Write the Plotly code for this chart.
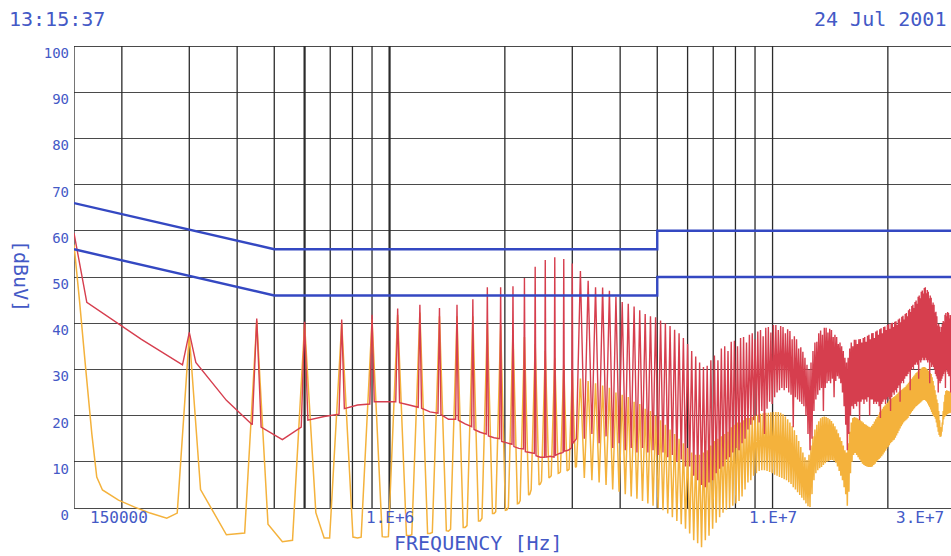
import math
import plotly.graph_objects as go

# ---------------- data ----------------
F0_HZ = 150e3  # switching fundamental; harmonic n sits at n*F0

Y_TICKS = [0, 10, 20, 30, 40, 50, 60, 70, 80, 90, 100]
Y_TICK_TEXT = ["0", "10", "20", "30", "40", "50", "60", "70", "80", "90", "100"]

GRID_FREQ_HZ = [150e3, 200e3, 300e3, 400e3, 500e3, 600e3, 700e3, 800e3, 900e3,
                1e6, 2e6, 3e6, 4e6, 5e6, 6e6, 7e6, 8e6, 9e6, 1e7, 2e7]
GRID_BOLD_HZ = [600e3, 1e6]

X_TICK_LABELS = ["150000", "1.E+6", "1.E+7", "3.E+7"]
X_TICK_FREQ_HZ = [150e3, 1e6, 1e7, 3e7]

# Limit lines
LIMIT_F_HZ = [150e3, 500e3, 5e6, 5e6, 30e6]
QP_LIMIT_DB = [66, 56, 56, 60, 60]
AV_LIMIT_DB = [56, 46, 46, 50, 50]

# Red (peak) trace, harmonics n = 1..20 : left shoulder, peak, right shoulder, floor midway to next
RED_LOW_LEFT = [None, 31.0, 18.0, 17.5, 20.3, 22.5, 23.0, 21.8, 20.5, 19.2,
                17.6, 16.0, 15.0, 13.8, 12.8, 11.8, 11.0, 11.0, 12.0, 13.0]
RED_LOW_PEAK = [59.5, 38.0, 41.0, 40.3, 40.8, 41.8, 43.2, 44.0, 43.3, 44.0,
                45.2, 47.8, 47.8, 48.0, 49.8, 52.2, 53.7, 54.3, 53.9, 52.9]
RED_LOW_RIGHT = [44.5, 31.5, 17.5, 19.0, 21.5, 23.0, 22.8, 21.6, 20.2, 19.0,
                 17.0, 15.6, 14.4, 13.3, 12.2, 11.3, 11.0, 11.4, 12.3, 14.0]
RED_LOW_MID = [36.5, 23.3, 14.8, 19.8, 22.3, 23.0, 22.3, 20.8, 19.2, 18.2,
               16.4, 15.2, 14.1, 12.9, 12.0, 11.0, 11.2, 11.8, 12.5, 15.0]

# Red, harmonics n = 21..197 : peak and valley after it
RED_HI_PEAK = [
    51.3, 49.2, 47.8, 47.7, 47.0, 45.7, 44.6, 44.2, 43.6, 42.8,
    42.0, 41.5, 41.3, 40.6, 40.0, 39.4, 38.6, 37.8, 36.8, 35.5,
    34.0, 32.8, 31.5, 30.5, 30.8, 32.0, 33.0, 32.0, 34.5, 35.0,
    34.0, 36.0, 36.2, 35.0, 36.8, 37.0, 35.8, 37.5, 37.8, 36.5,
    38.2, 38.5, 37.2, 39.0, 39.2, 38.0, 39.6, 39.6, 38.5, 39.4,
    39.2, 37.8, 38.7, 38.3, 36.5, 37.2, 36.5, 34.5, 34.8, 33.8,
    32.5, 31.0, 30.0, 31.5, 34.0, 35.8, 36.0, 37.8, 38.4, 37.5,
    39.0, 39.0, 38.0, 38.8, 38.5, 37.0, 37.5, 37.0, 35.5, 35.8,
    35.0, 34.0, 32.5, 31.5, 32.5, 34.5, 35.8, 35.0, 36.4, 36.4,
    35.5, 36.5, 36.6, 35.8, 36.8, 37.0, 36.0, 37.3, 37.5, 36.5,
    37.8, 37.9, 36.8, 38.2, 38.4, 37.5, 38.7, 38.9, 37.8, 39.2,
    39.3, 38.5, 39.6, 39.8, 38.8, 40.0, 40.1, 39.2, 40.3, 40.4,
    39.6, 40.8, 41.0, 40.2, 41.4, 41.6, 40.8, 42.0, 42.2, 41.5,
    42.8, 43.1, 42.4, 43.7, 44.0, 43.3, 44.6, 44.9, 44.2, 45.7,
    46.0, 45.4, 46.8, 47.1, 46.4, 47.6, 47.8, 46.5, 47.2, 46.8,
    45.4, 46.0, 45.5, 44.0, 44.5, 44.0, 42.3, 42.5, 41.5, 39.5,
    39.8, 39.3, 38.1, 39.2, 39.8, 40.5, 40.2, 41.8, 42.2, 41.5,
    42.4, 42.2, 41.0, 41.8, 41.5, 40.3, 41.0]
RED_HI_VALLEY = [
    15.0, 16.0, 14.0, 15.5, 13.0, 14.0, 12.5, 13.0, 12.0, 13.0,
    12.0, 12.5, 11.5, 12.0, 11.0, 11.5, 10.0, 10.5, 9.0, 9.0,
    7.0, 6.0, 5.0, 4.5, 5.5, 6.0, 7.5, 8.5, 9.0, 10.5,
    11.0, 12.0, 13.0, 12.5, 14.0, 15.0, 17.0, 18.0, 19.0, 20.0,
    18.5, 21.0, 16.0, 21.5, 23.0, 22.5, 24.0, 25.0, 25.5, 26.0,
    25.5, 26.0, 25.0, 24.5, 17.5, 24.0, 23.5, 23.0, 22.5, 22.0,
    20.0, 16.0, 12.5, 15.0, 21.0, 23.5, 24.5, 25.5, 26.0, 21.0,
    26.0, 27.0, 27.5, 27.0, 28.0, 24.0, 27.5, 28.5, 28.0, 27.0,
    25.0, 22.0, 18.0, 12.5, 16.0, 20.0, 22.0, 21.5, 22.5, 22.0,
    23.0, 19.0, 23.0, 23.5, 22.5, 23.5, 23.0, 24.0, 20.0, 23.5,
    23.5, 22.5, 23.0, 22.5, 23.0, 22.0, 19.5, 22.5, 23.0, 23.5,
    22.5, 23.5, 24.0, 23.5, 21.0, 24.0, 25.0, 24.5, 25.5, 25.0,
    26.0, 26.5, 23.0, 27.0, 27.5, 27.0, 28.0, 28.5, 28.5, 29.0,
    29.5, 25.5, 30.0, 30.5, 30.0, 31.0, 31.0, 31.5, 31.0, 28.0,
    32.0, 31.5, 32.0, 32.5, 32.0, 32.0, 32.5, 32.0, 31.5, 32.0,
    27.0, 31.5, 30.5, 31.0, 30.5, 30.0, 29.0, 28.5, 28.0, 25.0,
    27.5, 27.0, 27.5, 28.0, 28.5, 29.0, 29.5, 26.0, 30.0, 29.5,
    29.0, 28.5, 28.5, 25.0, 28.0, 28.0, 28.0]

# Yellow (average) trace: initial decay after the fundamental (kHz, dB)
YEL_START_KHZ = [150, 155, 161, 167, 172, 178, 196, 216, 237, 262]
YEL_START_DB = [57.0, 45.0, 30.0, 16.0, 6.7, 3.9, 1.7, 0.2, -1.1, -2.2]

# Yellow, harmonics n = 2..20
YEL_LOW_LEFT = [-1.1, -5.4, -7.0, -6.5, -6.3, -6.2, -5.8, -5.3, -4.6, -3.8,
                -2.2, -0.8, 0.2, 1.6, 4.0, 5.8, 7.0, 7.8, 8.4]
YEL_LOW_PEAK = [37.5, 40.5, 39.8, 40.0, 40.8, 41.8, 42.3, 41.5, 41.5, 41.5,
                40.5, 39.5, 38.5, 37.0, 35.5, 34.0, 32.5, 31.0, 29.5]
YEL_LOW_RIGHT = [4.0, -3.5, -1.0, -6.3, -6.2, -5.9, -5.5, -4.9, -4.2, -2.8,
                 -1.2, -0.5, 0.9, 2.8, 5.0, 6.5, 7.5, 8.0, 8.8]
YEL_LOW_MID = [-5.8, -7.3, -6.5, -6.5, -6.3, -6.0, -5.5, -5.0, -4.2, -2.8,
               -1.2, -0.4, 1.0, 3.0, 5.2, 6.7, 7.6, 8.2, 9.0]

# Yellow, harmonics n = 21..197
YEL_HI_PEAK = [
    28.0, 27.5, 27.0, 26.5, 26.0, 25.0, 24.5, 24.0, 23.0, 22.5,
    21.5, 21.0, 20.0, 19.0, 18.0, 17.0, 16.0, 15.0, 14.0, 13.0,
    12.0, 11.5, 11.5, 12.0, 12.5, 13.5, 14.5, 15.0, 15.5, 16.0,
    16.5, 17.5, 18.0, 18.5, 18.5, 19.0, 19.5, 19.5, 19.7, 20.0,
    20.2, 20.4, 20.5, 20.6, 20.6, 20.7, 20.8, 20.8, 20.8, 20.6,
    20.3, 19.8, 19.2, 18.5, 17.7, 16.8, 15.8, 14.5, 13.2, 12.0,
    11.0, 10.4, 11.5, 13.5, 15.5, 17.0, 18.0, 18.8, 19.4, 19.7,
    19.8, 19.7, 19.5, 19.2, 18.8, 18.3, 17.7, 17.0, 16.2, 15.3,
    14.5, 13.5, 12.5, 12.0, 14.0, 16.5, 18.5, 19.5, 19.7, 19.6,
    19.4, 19.2, 19.0, 18.8, 18.5, 18.2, 18.0, 17.8, 17.6, 17.5,
    17.8, 18.2, 18.7, 19.2, 19.7, 20.2, 20.7, 21.1, 21.5, 21.9,
    22.2, 22.5, 22.8, 23.1, 23.4, 23.6, 23.8, 24.0, 24.2, 24.4,
    24.7, 25.0, 25.2, 25.4, 25.6, 25.8, 26.0, 26.2, 26.5, 26.8,
    27.1, 27.4, 27.7, 28.0, 28.3, 28.6, 28.9, 29.2, 29.4, 29.6,
    29.8, 30.0, 30.2, 30.4, 30.5, 30.5, 30.4, 30.2, 30.0, 29.7,
    29.4, 29.2, 29.0, 28.3, 27.5, 26.5, 25.5, 24.5, 23.5, 22.7,
    21.0, 19.0, 17.5, 16.9, 18.5, 21.0, 23.0, 24.5, 25.3, 25.5,
    25.4, 25.3, 25.2, 25.1, 25.0, 24.9, 24.8]
YEL_HI_VALLEY = [
    6.5, 6.0, 5.5, 5.0, 4.0, 3.5, 3.0, 2.5, 2.0, 1.5,
    1.0, 0.5, 0.0, -0.5, -1.2, -2.0, -2.8, -3.5, -4.5, -5.5,
    -7.0, -7.6, -8.5, -7.0, -6.0, -4.5, -3.2, -2.0, -1.0, -0.4,
    0.0, 0.5, 1.0, 1.5, 2.5, 4.0, 5.5, 6.0, 7.0, 7.5,
    8.0, 8.2, 8.2, 8.0, 7.8, 7.5, 7.2, 7.0, 6.7, 6.5,
    6.2, 6.0, 5.6, 5.2, 4.5, 4.0, 3.4, 2.8, 2.2, 1.7,
    1.0, 0.4, 0.2, 3.0, 6.0, 7.5, 8.2, 8.6, 8.9, 9.3,
    9.7, 10.0, 10.2, 10.4, 10.4, 10.2, 9.8, 9.0, 8.0, 7.0,
    6.0, 4.5, 3.0, 0.5, 3.5, 7.5, 10.0, 11.5, 11.9, 11.5,
    11.0, 10.5, 10.0, 9.6, 9.3, 9.1, 9.0, 8.9, 8.9, 8.9,
    9.0, 9.3, 9.6, 10.0, 10.3, 10.6, 10.9, 11.2, 11.6, 12.0,
    12.4, 12.8, 13.2, 13.6, 14.0, 14.3, 14.6, 14.8, 15.2, 15.7,
    16.2, 16.7, 17.2, 17.7, 18.1, 18.5, 18.8, 19.0, 19.2, 19.5,
    19.9, 20.3, 20.7, 21.0, 21.3, 21.6, 21.9, 22.1, 22.3, 22.5,
    22.7, 22.9, 23.1, 23.3, 23.4, 23.4, 23.2, 23.0, 22.6, 22.2,
    21.8, 21.3, 20.8, 20.3, 19.9, 19.7, 19.3, 18.5, 17.5, 16.5,
    15.8, 15.4, 15.5, 16.5, 18.0, 19.2, 19.7, 19.9, 20.1, 20.3,
    20.4, 20.5, 20.5, 20.6, 20.6, 20.6, 20.6]

# ---------------- styles ----------------
RED = "#d63e4e"
YEL = "#f4b23c"
LIMIT_BLUE = "#3448c2"
TEXT_BLUE = "#4459c6"
GRID_DARK = "#2b2b2b"
GRID_H = "#4a4a4a"
MONO = "DejaVu Sans Mono"

RED_HALF_W = 12e3


def yel_half_w(n):
    return min(0.07 * n * F0_HZ, 0.38 * F0_HZ)


def low_comb(n_first, left, peak, right, mid, half_w):
    xs, ys = [], []
    for i in range(len(peak)):
        n = n_first + i
        f = n * F0_HZ
        w = half_w(n)
        if left[i] is not None:
            xs.append(f - w); ys.append(left[i])
        xs.append(f); ys.append(peak[i])
        xs.append(f + w); ys.append(right[i])
        xs.append(f + 0.5 * F0_HZ); ys.append(mid[i])
    return xs, ys


def high_comb(n_first, peak, valley):
    xs, ys = [], []
    for i in range(len(peak)):
        n = n_first + i
        xs += [n * F0_HZ, (n + 0.5) * F0_HZ]
        ys += [peak[i], valley[i]]
    return xs, ys


assert len(RED_HI_PEAK) == len(RED_HI_VALLEY) == len(YEL_HI_PEAK) == len(YEL_HI_VALLEY) == 177

rx1, ry1 = low_comb(1, RED_LOW_LEFT, RED_LOW_PEAK, RED_LOW_RIGHT, RED_LOW_MID, lambda n: RED_HALF_W)
rx2, ry2 = high_comb(21, RED_HI_PEAK, RED_HI_VALLEY)
red_x, red_y = rx1 + rx2, ry1 + ry2

yx0 = [k * 1e3 for k in YEL_START_KHZ]
yx1, yy1 = low_comb(2, YEL_LOW_LEFT, YEL_LOW_PEAK, YEL_LOW_RIGHT, YEL_LOW_MID, yel_half_w)
yx2, yy2 = high_comb(21, YEL_HI_PEAK, YEL_HI_VALLEY)
yel_x, yel_y = yx0 + yx1 + yx2, YEL_START_DB + yy1 + yy2

# ---------------- layout geometry ----------------
W, H = 951, 556
ML, MR, MT, MB = 74, 0, 40, 0
PX_PER_DEC = 383.0
PX_PER_DB = 4.62
x_lo = math.log10(150e3)
x_hi = x_lo + (W - ML - MR) / PX_PER_DEC
y_top_px, y0_px = 46.0, 508.0
y_hi = 100 + (y_top_px - MT) / PX_PER_DB
y_lo = -((H - MB) - y0_px) / PX_PER_DB

fig = go.Figure()


def vgrid(freqs, width):
    xs, ys = [], []
    for f in freqs:
        xs += [f, f, None]
        ys += [0, 100, None]
    fig.add_trace(go.Scatter(x=xs, y=ys, mode="lines", hoverinfo="skip",
                             line=dict(color=GRID_DARK, width=width), showlegend=False))


vgrid([f for f in GRID_FREQ_HZ if f not in GRID_BOLD_HZ], 1.3)
vgrid(GRID_BOLD_HZ, 2.2)

fig.add_trace(go.Scatter(x=yel_x, y=yel_y, mode="lines", line=dict(color=YEL, width=1.5, simplify=False),
                         hoverinfo="skip", showlegend=False))
fig.add_trace(go.Scatter(x=red_x, y=red_y, mode="lines", line=dict(color=RED, width=1.4, simplify=False),
                         hoverinfo="skip", showlegend=False))
for lim in (QP_LIMIT_DB, AV_LIMIT_DB):
    fig.add_trace(go.Scatter(x=LIMIT_F_HZ, y=lim, mode="lines", line=dict(color=LIMIT_BLUE, width=2.4),
                             hoverinfo="skip", showlegend=False))


def px_to_paper_x(px):
    return (px - ML) / (W - ML - MR)


def py_to_paper_y(py):
    return (H - MB - py) / (H - MT - MB)


ann = []
label_y = py_to_paper_y(517)
ann.append(dict(text=X_TICK_LABELS[0], xref="paper", yref="paper", x=px_to_paper_x(88), y=label_y,
                xanchor="left", yanchor="middle", showarrow=False,
                font=dict(family=MONO, size=16, color=TEXT_BLUE)))
for lab, f in zip(X_TICK_LABELS[1:3], X_TICK_FREQ_HZ[1:3]):
    ann.append(dict(text=lab, xref="x", yref="paper", x=math.log10(f), y=label_y,
                    xanchor="center", yanchor="middle", showarrow=False,
                    font=dict(family=MONO, size=16, color=TEXT_BLUE)))
ann.append(dict(text=X_TICK_LABELS[3], xref="paper", yref="paper", x=px_to_paper_x(946), y=label_y,
                xanchor="right", yanchor="middle", showarrow=False,
                font=dict(family=MONO, size=16, color=TEXT_BLUE)))
ann.append(dict(text="FREQUENCY [Hz]", xref="paper", yref="paper", x=px_to_paper_x(478), y=py_to_paper_y(543),
                xanchor="center", yanchor="middle", showarrow=False,
                font=dict(family=MONO, size=20, color=TEXT_BLUE)))
ann.append(dict(text="[dBuV]", xref="paper", yref="paper", x=px_to_paper_x(21), y=py_to_paper_y(276),
                xanchor="center", yanchor="middle", showarrow=False, textangle=90,
                font=dict(family=MONO, size=20, color=TEXT_BLUE)))
ann.append(dict(text="13:15:37", xref="paper", yref="paper", x=px_to_paper_x(7), y=py_to_paper_y(19),
                xanchor="left", yanchor="middle", showarrow=False,
                font=dict(family=MONO, size=20, color=TEXT_BLUE)))
ann.append(dict(text="24 Jul 2001", xref="paper", yref="paper", x=px_to_paper_x(948), y=py_to_paper_y(19),
                xanchor="right", yanchor="middle", showarrow=False,
                font=dict(family=MONO, size=20, color=TEXT_BLUE)))

fig.update_layout(
    width=W, height=H,
    margin=dict(l=ML, r=MR, t=MT, b=MB, pad=0),
    paper_bgcolor="white", plot_bgcolor="white",
    showlegend=False,
    annotations=ann,
    xaxis=dict(type="log", range=[x_lo, x_hi], showgrid=False, zeroline=False,
               showticklabels=False, ticks="", showline=False),
    yaxis=dict(range=[y_lo, y_hi], tickmode="array", tickvals=Y_TICKS, ticktext=Y_TICK_TEXT,
               showgrid=True, gridcolor=GRID_H, gridwidth=1.3, zeroline=False, showline=False,
               ticks="", ticklabelstandoff=4, ticklabelshift=7,
               tickfont=dict(family=MONO, size=14, color=TEXT_BLUE)),
)

fig.write_html("out.html")
